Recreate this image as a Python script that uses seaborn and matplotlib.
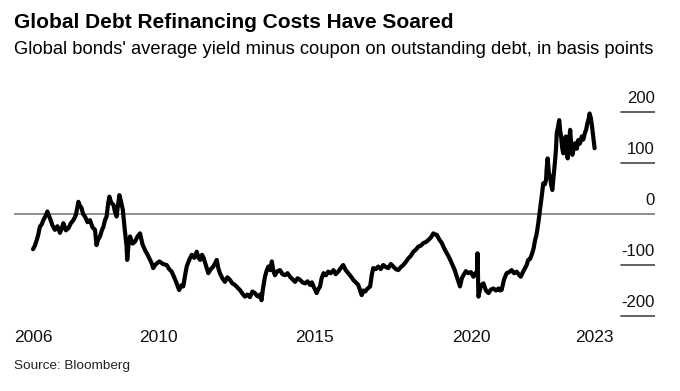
import matplotlib
matplotlib.use("Agg")
import matplotlib.pyplot as plt
import seaborn as sns
import pandas as pd

# Decimal years and spread in basis points
years = [
    2006.00, 2006.06, 2006.12, 2006.17, 2006.22, 2006.28, 2006.33, 2006.40, 2006.46, 2006.50,
    2006.54, 2006.62, 2006.70, 2006.78, 2006.86, 2006.92, 2006.97,
    2007.05, 2007.13, 2007.21, 2007.29, 2007.37, 2007.45, 2007.50, 2007.55, 2007.60, 2007.66,
    2007.74, 2007.82, 2007.90, 2007.98,
    2008.01, 2008.03, 2008.08, 2008.14, 2008.20, 2008.25, 2008.30, 2008.35, 2008.40, 2008.44,
    2008.50, 2008.57, 2008.62, 2008.67, 2008.72, 2008.76, 2008.82, 2008.87, 2008.93, 2008.99,
    2009.01, 2009.05, 2009.10, 2009.18, 2009.26, 2009.34, 2009.42, 2009.50, 2009.58, 2009.66,
    2009.74, 2009.80, 2009.84, 2009.90, 2009.97,
    2010.04, 2010.15, 2010.27, 2010.35, 2010.43, 2010.51, 2010.59, 2010.63, 2010.67, 2010.74,
    2010.80, 2010.86, 2010.91, 2010.99,
    2011.07, 2011.15, 2011.23, 2011.29, 2011.34, 2011.40, 2011.45, 2011.52, 2011.60, 2011.68,
    2011.76, 2011.82, 2011.87, 2011.92, 2011.97,
    2012.05, 2012.13, 2012.21, 2012.29, 2012.37, 2012.45, 2012.53, 2012.61, 2012.69, 2012.77,
    2012.85, 2012.93,
    2013.01, 2013.09, 2013.15, 2013.20, 2013.25, 2013.30, 2013.35, 2013.41, 2013.46, 2013.52,
    2013.58, 2013.63, 2013.68, 2013.73, 2013.81, 2013.89, 2013.97,
    2014.05, 2014.13, 2014.21, 2014.29, 2014.37, 2014.45, 2014.53, 2014.61, 2014.69, 2014.77,
    2014.85, 2014.91, 2014.96,
    2015.01, 2015.06, 2015.11, 2015.17, 2015.22, 2015.28, 2015.36, 2015.43, 2015.51, 2015.60,
    2015.67, 2015.75, 2015.83, 2015.91, 2015.99,
    2016.07, 2016.15, 2016.23, 2016.31, 2016.39, 2016.45, 2016.50, 2016.55, 2016.61, 2016.69,
    2016.77, 2016.82, 2016.87, 2016.95,
    2017.03, 2017.11, 2017.19, 2017.27, 2017.35, 2017.43, 2017.51, 2017.59, 2017.67, 2017.75,
    2017.83, 2017.91, 2017.99,
    2018.07, 2018.15, 2018.23, 2018.31, 2018.39, 2018.47, 2018.55, 2018.63, 2018.71, 2018.79,
    2018.85, 2018.90, 2018.98,
    2019.06, 2019.14, 2019.22, 2019.30, 2019.38, 2019.46, 2019.54, 2019.59, 2019.64, 2019.70,
    2019.75, 2019.83, 2019.91, 2019.99,
    2020.07, 2020.13, 2020.18, 2020.20, 2020.23, 2020.31, 2020.39, 2020.47, 2020.55, 2020.63,
    2020.71, 2020.79, 2020.87, 2020.92, 2020.97,
    2021.05, 2021.13, 2021.21, 2021.29, 2021.37, 2021.45, 2021.51, 2021.58, 2021.65, 2021.72,
    2021.77, 2021.82, 2021.88, 2021.93, 2021.99,
    2022.04, 2022.08, 2022.11, 2022.15, 2022.18, 2022.22, 2022.25, 2022.28, 2022.30, 2022.35,
    2022.39, 2022.41, 2022.44, 2022.48, 2022.52, 2022.55, 2022.59, 2022.64, 2022.68, 2022.71,
    2022.73, 2022.77, 2022.81, 2022.84, 2022.87, 2022.91, 2022.94, 2022.98,
    2023.02, 2023.05, 2023.08, 2023.12, 2023.16, 2023.20, 2023.23, 2023.28, 2023.32, 2023.37,
    2023.42, 2023.47, 2023.53, 2023.58, 2023.64, 2023.67, 2023.71, 2023.75, 2023.78, 2023.82,
    2023.86, 2023.90, 2023.94,
]
spread_bp = [
    -69, -62, -51, -40, -25, -20, -12, -4, 5, -2,
    -8, -22, -31, -24, -37, -28, -18,
    -32, -28, -18, -12, -2, 24, 16, 12, 0, -5,
    -16, -12, -26, -31,
    -48, -61, -50, -44, -32, -25, -12, -5, 20, 34,
    22, 18, 4, -5, 20, 37, 22, 8, -30, -64,
    -90, -60, -44, -58, -54, -44, -38, -60, -71, -80,
    -90, -98, -106, -100, -96,
    -93, -98, -100, -108, -113, -124, -136, -143, -149, -140,
    -142, -120, -103, -90,
    -80, -86, -74, -86, -90, -80, -86, -100, -116, -108,
    -103, -96, -90, -106, -116,
    -126, -133, -124, -129, -136, -139, -144, -149, -156, -162,
    -158, -163,
    -152, -155, -160, -162, -158, -169, -145, -123, -112, -103,
    -110, -93, -112, -120, -112, -110, -118,
    -120, -116, -123, -128, -133, -126, -129, -134, -136, -132,
    -139, -134, -142,
    -148, -155, -148, -142, -126, -116, -120, -113, -116, -110,
    -118, -113, -106, -100, -110,
    -116, -122, -129, -134, -139, -150, -159, -150, -152, -146,
    -142, -120, -106, -108,
    -103, -108, -100, -104, -106, -98, -103, -108, -110, -104,
    -100, -94, -87,
    -82, -74, -70, -64, -62, -57, -55, -51, -46, -38,
    -40, -41, -50,
    -57, -68, -77, -86, -97, -108, -123, -132, -142, -126,
    -120, -112, -116, -114,
    -123, -116, -120, -77, -162, -140, -136, -150, -155, -148,
    -146, -150, -146, -150, -149,
    -128, -116, -114, -110, -116, -113, -118, -123, -114, -106,
    -100, -90, -88, -80, -68,
    -51, -42, -31, -14, 1, 20, 34, 50, 60, 58,
    67, 90, 109, 80, 73, 58, 47, 80, 106, 130,
    158, 170, 184, 164, 152, 128, 119, 140,
    152, 126, 109, 140, 165, 130, 116, 130, 139, 128,
    145, 138, 152, 146, 161, 165, 178, 186, 197, 188,
    171, 150, 129,
]

y_ticks = [200, 100, 0, -100, -200]
x_ticks = [2006, 2010, 2015, 2020, 2023.94]
x_tick_labels = ["2006", "2010", "2015", "2020", "2023"]

df = pd.DataFrame({"year": years, "bp": spread_bp})

sns.set_style("white")
plt.rcParams["font.family"] = ["Liberation Sans", "DejaVu Sans"]

W, H = 680, 391
fig = plt.figure(figsize=(W / 100, H / 100), dpi=100)
ax = fig.add_axes([14 / W, 1 - 320 / H, 641 / W, 225 / H])

sns.lineplot(data=df, x="year", y="bp", color="black", linewidth=3.0, ax=ax)

ax.set_xlim(2005.393, 2025.87)
ax.set_ylim(-207.8, 233.3)

# zero line across the plot, short stubs for other levels under the labels
for v in y_ticks:
    if v == 0:
        ax.axhline(0, color="#7a7a7a", lw=1.2, zorder=0)
    else:
        ax.axhline(v, xmin=0.947, xmax=1.0, color="#555555", lw=1.3)
    ax.annotate(str(v), xy=(1.0, v), xycoords=("axes fraction", "data"),
                xytext=(0, 4), textcoords="offset points",
                ha="right", va="bottom", fontsize=12, color="#111111")

ax.set_yticks([])
ax.set_xticks(x_ticks)
ax.set_xticklabels(x_tick_labels, fontsize=12.5, color="#111111")
ax.tick_params(axis="x", direction="in", length=4, width=1, color="#333333", pad=7)
ax.set_xlabel("")
ax.set_ylabel("")
for s in ax.spines.values():
    s.set_visible(False)
ax.set_facecolor("none")

fig.text(14 / W, 1 - 22 / H, "Global Debt Refinancing Costs Have Soared",
         fontsize=15, fontweight="bold", va="center", ha="left", color="black")
fig.text(14 / W, 1 - 50 / H,
         "Global bonds' average yield minus coupon on outstanding debt, in basis points",
         fontsize=13.2, va="center", ha="left", color="black")
fig.text(14 / W, 1 - 366 / H, "Source: Bloomberg",
         fontsize=9.7, va="center", ha="left", color="#222222")

fig.savefig("out.png", dpi=100)
